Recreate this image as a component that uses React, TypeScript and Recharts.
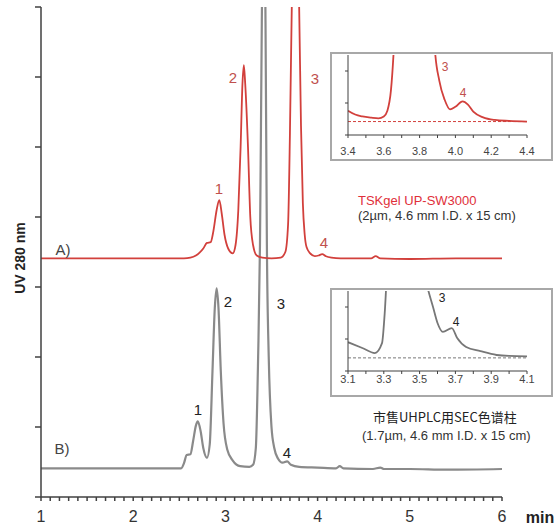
import { LineChart, Line, XAxis, YAxis, ReferenceLine } from 'recharts';

// UV 280 nm chromatograms, A) TSKgel UP-SW3000 (red, offset up) and B) commercial UHPLC SEC column (gray)

const FONT = '"Liberation Sans", Arial, sans-serif';
const RED = '#d2403c';
const RED_LABEL = '#c0504d';
const GRAY = '#8a8a8a';
const AXIS = '#404040';

// main chart, time in min
const redTime = [1.0, 2.55, 2.62, 2.68, 2.72, 2.76, 2.80, 2.84, 2.87, 2.905, 2.934, 2.96, 2.99, 3.03, 3.08, 3.11, 3.14, 3.165, 3.185, 3.20, 3.215, 3.245, 3.27, 3.30, 3.34, 3.40, 3.50, 3.60, 3.65, 3.68, 3.70, 3.72, 3.76, 3.80, 3.82, 3.84, 3.86, 3.88, 3.92, 3.97, 4.01, 4.05, 4.09, 4.15, 4.25, 4.58, 4.63, 4.68, 5.0, 5.5, 6.0];
const redSignal = [3.41, 3.41, 3.42, 3.45, 3.49, 3.55, 3.63, 3.64, 3.80, 4.10, 4.24, 4.05, 3.75, 3.55, 3.48, 3.60, 4.10, 5.0, 5.9, 6.17, 5.9, 5.0, 4.0, 3.6, 3.45, 3.42, 3.41, 3.42, 3.50, 3.9, 5.2, 7.0, 9, 7.0, 5.3, 4.2, 3.75, 3.57, 3.48, 3.44, 3.45, 3.47, 3.44, 3.42, 3.41, 3.41, 3.44, 3.41, 3.40, 3.41, 3.41];

const grayTime = [1.0, 2.52, 2.55, 2.58, 2.62, 2.65, 2.68, 2.70, 2.73, 2.76, 2.80, 2.83, 2.86, 2.885, 2.905, 2.925, 2.95, 2.98, 3.02, 3.08, 3.16, 3.26, 3.30, 3.33, 3.355, 3.375, 3.395, 3.415, 3.435, 3.45, 3.47, 3.50, 3.53, 3.57, 3.62, 3.67, 3.71, 3.80, 4.0, 4.2, 4.24, 4.28, 4.6, 4.68, 4.72, 5.0, 5.4, 6.0];
const graySignal = [0.41, 0.41, 0.48, 0.60, 0.61, 0.80, 1.02, 1.08, 0.95, 0.70, 0.56, 0.75, 1.80, 2.70, 2.98, 2.70, 1.80, 1.05, 0.68, 0.52, 0.44, 0.43, 0.46, 0.70, 2.0, 3.6, 6.8, 9, 6.8, 3.6, 2.0, 1.0, 0.70, 0.55, 0.49, 0.51, 0.46, 0.43, 0.42, 0.41, 0.44, 0.41, 0.40, 0.42, 0.40, 0.40, 0.39, 0.40];

// insets (zoomed)
const redInsetTime = [3.40, 3.44, 3.48, 3.53, 3.57, 3.60, 3.62, 3.64, 3.655, 3.67, 3.77, 3.87, 3.885, 3.91, 3.94, 3.97, 4.00, 4.04, 4.07, 4.10, 4.155, 4.22, 4.30, 4.40];
const redInsetSignal = [0.76, 0.64, 0.58, 0.54, 0.52, 0.58, 0.76, 1.4, 2.6, 4.5, 7, 4.5, 2.7, 1.7, 1.1, 0.80, 0.88, 1.05, 0.95, 0.73, 0.55, 0.47, 0.44, 0.42];
const redInsetBase = 0.42;

const grayInsetTime = [3.10, 3.18, 3.25, 3.29, 3.305, 3.32, 3.43, 3.547, 3.575, 3.60, 3.63, 3.68, 3.71, 3.76, 3.84, 3.93, 4.00, 4.10];
const grayInsetSignal = [0.90, 0.72, 0.56, 0.87, 1.8, 3.2, 6, 2.55, 2.0, 1.5, 1.22, 1.34, 1.03, 0.75, 0.62, 0.50, 0.47, 0.46];
const grayInsetBase = 0.41;

const mainYTicks = [0, 1, 2, 3, 4, 5, 6, 7];
const mainXTicks = Array.from({ length: 51 }, (_, i) => Math.round(10 + i) / 10);
const redInsetTicks = [3.4, 3.5, 3.6, 3.7, 3.8, 3.9, 4.0, 4.1, 4.2, 4.3, 4.4];
const grayInsetTicks = [3.1, 3.2, 3.3, 3.4, 3.5, 3.6, 3.7, 3.8, 3.9, 4.0, 4.1];
const insetYTicks = [0, 1, 2];

const toPoints = (t: number[], v: number[]) => t.map((x, i) => ({ t: x, v: v[i] }));
const redData = toPoints(redTime, redSignal);
const grayData = toPoints(grayTime, graySignal);
const redInsetData = toPoints(redInsetTime, redInsetSignal);
const grayInsetData = toPoints(grayInsetTime, grayInsetSignal);

interface InsetProps {
  data: { t: number; v: number }[];
  ticks: number[];
  color: string;
  base: number;
  left: number;
  top: number;
  height: number;
  axisHeight: number;
  tickMargin: number;
}

function Inset({ data, ticks, color, base, left, top, height, axisHeight, tickMargin }: InsetProps) {
  return (
    <div
      style={{
        position: 'absolute', left, top, width: 223, height,
        border: '2px solid #a8a8a8', boxSizing: 'border-box', background: '#fff',
      }}
    >
      <LineChart width={219} height={height - 4} margin={{ top: 1, right: 24, bottom: 0, left: 0 }}>
        <XAxis
          type="number" dataKey="t" domain={[ticks[0], ticks[ticks.length - 1]]} ticks={ticks}
          interval={0} allowDataOverflow height={axisHeight} stroke={AXIS} tickSize={3} tickMargin={tickMargin}
          tickFormatter={(v: number, i: number) => (i % 2 === 0 ? v.toFixed(1) : '')}
          tick={{ fill: '#444', fontSize: 11, fontFamily: FONT }}
        />
        <YAxis
          type="number" domain={[0, 2.5]} ticks={insetYTicks} allowDataOverflow width={16}
          tickSize={3} tickFormatter={() => ''} stroke={AXIS}
        />
        <ReferenceLine y={base} stroke={color} strokeDasharray="3 2" strokeWidth={1} />
        <Line data={data} dataKey="v" type="monotone" stroke={color} strokeWidth={1.8} dot={false} isAnimationActive={false} />
      </LineChart>
    </div>
  );
}

export default function App() {
  return (
    <div style={{ position: 'absolute', left: 0, top: 0, width: 556, height: 529, background: '#fff', fontFamily: FONT }}>
      <LineChart width={556} height={529} margin={{ top: 7, right: 54, bottom: 0, left: 0 }}>
        <XAxis
          type="number" dataKey="t" domain={[1, 6]} ticks={mainXTicks} interval={0} allowDataOverflow
          height={32} stroke={AXIS} strokeWidth={1.5} tickSize={4} tickMargin={10}
          tickFormatter={(v: number) => (Number.isInteger(v) ? String(v) : '')}
          tick={{ fill: '#333', fontSize: 16, fontFamily: FONT }}
        />
        <YAxis
          type="number" domain={[0, 7]} ticks={mainYTicks} allowDataOverflow width={41}
          tickSize={6} tickFormatter={() => ''} stroke={AXIS} strokeWidth={1.5}
        />
        <Line data={grayData} dataKey="v" type="monotone" stroke={GRAY} strokeWidth={2.2} dot={false} isAnimationActive={false} />
        <Line data={redData} dataKey="v" type="monotone" stroke={RED} strokeWidth={1.8} dot={false} isAnimationActive={false} />
      </LineChart>

      <Inset data={redInsetData} ticks={redInsetTicks} color={RED} base={redInsetBase}
        left={330} top={52} height={109} axisHeight={24} tickMargin={9} />
      <Inset data={grayInsetData} ticks={grayInsetTicks} color="#777" base={grayInsetBase}
        left={330} top={288} height={109} axisHeight={24} tickMargin={1} />

      <svg width={556} height={529} style={{ position: 'absolute', left: 0, top: 0, pointerEvents: 'none' }}>
        <g fontFamily={FONT} dominantBaseline="central" textAnchor="middle">
          <text transform="translate(20,258) rotate(-90)" fontSize={14} fontWeight="bold" fill="#222">UV 280 nm</text>
          <text x={540} y={517} fontSize={16} fontWeight="bold" fill="#222">min</text>
          <text x={63} y={249} fontSize={15} fill="#444">A)</text>
          <text x={62} y={448} fontSize={15} fill="#444">B)</text>

          <g fontSize={15} fill={RED_LABEL}>
            <text x={219} y={188}>1</text>
            <text x={233} y={77}>2</text>
            <text x={315} y={78}>3</text>
            <text x={324} y={242}>4</text>
          </g>
          <g fontSize={15} fill="#222">
            <text x={198} y={409}>1</text>
            <text x={228} y={301}>2</text>
            <text x={281} y={303}>3</text>
            <text x={287} y={452}>4</text>
          </g>
          <g fontSize={12} fill={RED_LABEL}>
            <text x={445} y={67}>3</text>
            <text x={463} y={93}>4</text>
          </g>
          <g fontSize={12} fill="#222">
            <text x={442} y={298}>3</text>
            <text x={456} y={322}>4</text>
          </g>
        </g>
        <g fontFamily={FONT} dominantBaseline="central" fontSize={13}>
          <text x={358} y={200} fill="#e0303a">TSKgel UP-SW3000</text>
          <text x={358} y={215} fill="#333">(2µm, 4.6 mm I.D. x 15 cm)</text>
          <text x={373} y={416} fill="#222" fontFamily={'"Noto Sans CJK SC", ' + FONT}>市售UHPLC用SEC色谱柱</text>
          <text x={362} y={435} fill="#333">(1.7µm, 4.6 mm I.D. x 15 cm)</text>
        </g>
      </svg>
    </div>
  );
}
